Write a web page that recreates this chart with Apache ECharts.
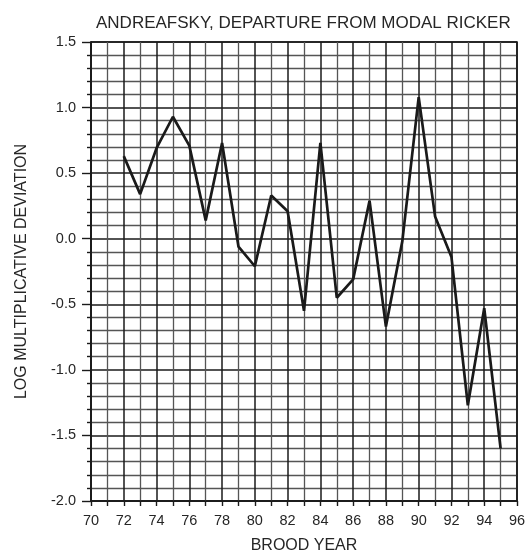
<!DOCTYPE html>
<html>
<head>
<meta charset="utf-8">
<script src="https://cdn.jsdelivr.net/npm/echarts@6/dist/echarts.min.js"></script>
<style>
html,body{margin:0;padding:0;background:#fff;}
#chart{width:529px;height:550px;}
</style>
</head>
<body>
<div id="chart"></div>
<script>
var titleText = "ANDREAFSKY, DEPARTURE FROM MODAL RICKER";
var xName = "BROOD YEAR";
var yName = "LOG MULTIPLICATIVE DEVIATION";
var years = [72,73,74,75,76,77,78,79,80,81,82,83,84,85,86,87,88,89,90,91,92,93,94,95];
var deviation = [0.63,0.34,0.69,0.93,0.71,0.14,0.73,-0.06,-0.21,0.33,0.21,-0.55,0.73,-0.45,-0.31,0.29,-0.67,-0.02,1.08,0.17,-0.14,-1.27,-0.53,-1.60];

var pts = years.map(function(y,i){return [y, deviation[i]];});
var font = "Liberation Sans";
var txt = '#262626';
var chart = echarts.init(document.getElementById('chart'), null, {renderer:'canvas'});
chart.setOption({
  animation:false,
  backgroundColor:'#fff',
  title:{
    text:titleText,
    left:91, top:10,
    textStyle:{fontFamily:font, fontSize:17, fontWeight:'normal', color:txt}
  },
  grid:{left:91, right:12, top:42, bottom:49, show:true, outerBoundsMode:'none', containLabel:false,
        borderColor:'#1a1a1a', borderWidth:1.6, backgroundColor:'transparent'},
  xAxis:{
    type:'value', min:70, max:96, interval:2,
    name:xName, nameLocation:'middle', nameGap:37,
    nameTextStyle:{fontFamily:font, fontSize:16, color:txt},
    axisLine:{show:true, onZero:false, lineStyle:{color:'#1a1a1a', width:1.6}},
    axisTick:{show:true, inside:false, length:5, lineStyle:{color:'#1a1a1a', width:1.4}},
    minorTick:{show:true, splitNumber:2, length:5, lineStyle:{color:'#1a1a1a', width:1.4}},
    axisLabel:{fontFamily:font, fontSize:14.5, color:txt, margin:12},
    splitLine:{show:true, lineStyle:{color:'#1a1a1a', width:1.5}},
    minorSplitLine:{show:true, lineStyle:{color:'#555', width:1.3}}
  },
  yAxis:{
    type:'value', min:-2, max:1.5, interval:0.5,
    name:yName, nameLocation:'middle', nameGap:61,
    nameTextStyle:{fontFamily:font, fontSize:16, color:txt},
    axisLine:{show:true, onZero:false, lineStyle:{color:'#1a1a1a', width:1.6}},
    axisTick:{show:true, inside:false, length:9, lineStyle:{color:'#1a1a1a', width:1.4}},
    minorTick:{show:true, splitNumber:5, length:4, lineStyle:{color:'#1a1a1a', width:1.4}},
    axisLabel:{fontFamily:font, fontSize:14.5, color:txt, margin:15,
      formatter:function(v){return v.toFixed(1);}},
    splitLine:{show:true, lineStyle:{color:'#1a1a1a', width:1.5}},
    minorSplitLine:{show:true, lineStyle:{color:'#555', width:1.3}}
  },
  series:[{
    type:'line', data:pts, symbol:'none',
    lineStyle:{color:'#1a1a1a', width:2.7},
    z:5
  }]
});
</script>
</body>
</html>
